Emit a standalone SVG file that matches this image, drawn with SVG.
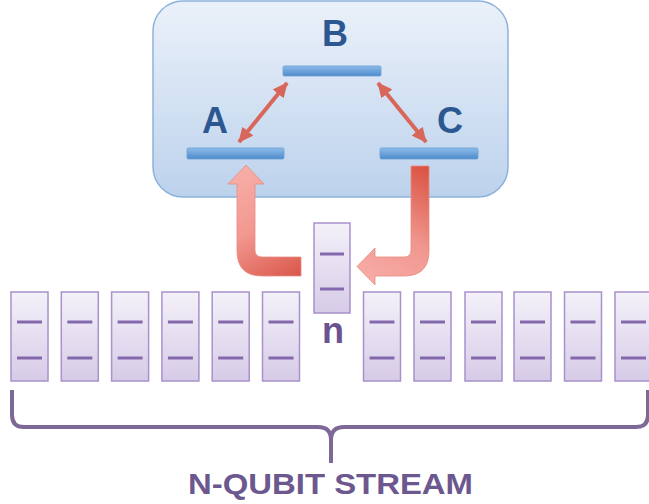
<svg xmlns="http://www.w3.org/2000/svg" width="649" height="504" viewBox="0 0 649 504">
<defs>
<linearGradient id="gBox" x1="0" y1="0" x2="0" y2="1">
<stop offset="0" stop-color="#ebf1fa"/>
<stop offset="1" stop-color="#bcd2ec"/>
</linearGradient>
<linearGradient id="gBar" x1="0" y1="0" x2="0" y2="1">
<stop offset="0" stop-color="#8dbbe9"/>
<stop offset="1" stop-color="#4e8bcc"/>
</linearGradient>
<linearGradient id="gQ" x1="0" y1="0" x2="0" y2="1">
<stop offset="0" stop-color="#f4f1f9"/>
<stop offset="1" stop-color="#d6cbe7"/>
</linearGradient>
<linearGradient id="gLeft" gradientUnits="userSpaceOnUse" x1="237" y1="165" x2="301" y2="276">
<stop offset="0" stop-color="#f8b0aa"/>
<stop offset="0.5" stop-color="#f29890"/>
<stop offset="1" stop-color="#d9564a"/>
</linearGradient>
<linearGradient id="gRight" gradientUnits="userSpaceOnUse" x1="429" y1="166" x2="357" y2="276">
<stop offset="0" stop-color="#d9503f"/>
<stop offset="0.55" stop-color="#f09890"/>
<stop offset="1" stop-color="#f8aca6"/>
</linearGradient>
<marker id="ah" viewBox="0 0 15 14" refX="14" refY="7" markerWidth="15" markerHeight="14" markerUnits="userSpaceOnUse" orient="auto-start-reverse">
<path d="M0 0 L15 7 L0 14 Z" fill="#d9665a"/>
</marker>
</defs>
<style>
.lbl{font-family:"Liberation Sans",Arial,sans-serif;font-weight:bold;font-size:36px;fill:#2c5891;text-anchor:middle}
.bar{fill:url(#gBar);stroke:#6b9fd6;stroke-width:0.8}
.q{fill:url(#gQ);stroke:#a991cc;stroke-width:1.5}
.ql{stroke:#8468ad;stroke-width:3;stroke-linecap:butt}
.dbl{stroke:#d9665a;stroke-width:4;fill:none}
.big{stroke:#e98b82;stroke-width:0.8}
</style>
<rect width="649" height="504" fill="#ffffff"/>

<g id="system">
<rect x="153" y="1" width="355" height="196" rx="30" ry="30" fill="url(#gBox)" stroke="#8eb2dc" stroke-width="1.5"/>
</g>
<g id="levelB">
<rect class="bar" x="283" y="66" width="98" height="10" rx="1.5"/>
<text class="lbl" x="335" y="46">B</text>
</g>
<g id="levelA">
<rect class="bar" x="187" y="148" width="97" height="11" rx="1.5"/>
<text class="lbl" x="215" y="133">A</text>
</g>
<g id="levelC">
<rect class="bar" x="380" y="148" width="98" height="11" rx="1.5"/>
<text class="lbl" x="450" y="133">C</text>
</g>

<g id="connectors">
<line class="dbl" x1="239" y1="142" x2="287" y2="83" marker-start="url(#ah)" marker-end="url(#ah)"/>
<line class="dbl" x1="378" y1="83" x2="426" y2="142" marker-start="url(#ah)" marker-end="url(#ah)"/>
<path class="big" fill="url(#gLeft)" d="M246 165 L264 184 L255 184 L255 250 Q255 257 262 257 L301 257 L301 276 L262 276 Q237 276 237 251 L237 184 L228 184 Z"/>
<path class="big" fill="url(#gRight)" d="M411 166 L429 166 L429 251 Q429 276 404 276 L375 276 L375 285 L357 266.5 L375 248 L375 257 L404 257 Q411 257 411 250 Z"/>
<path d="M12 390 V415 Q12 427 24 427 H318 Q331 427 331 440 V463 M331 440 Q331 427 344 427 H636 Q648 427 648 415 V390" fill="none" stroke="#7d6898" stroke-width="4" stroke-linejoin="round"/>
</g>

<g id="qubit1"><rect class="q" x="11" y="292" width="37" height="89"/><line class="ql" x1="17" y1="322" x2="42" y2="322"/><line class="ql" x1="17" y1="358" x2="42" y2="358"/></g>
<g id="qubit2"><rect class="q" x="61.3" y="292" width="37" height="89"/><line class="ql" x1="67.3" y1="322" x2="92.3" y2="322"/><line class="ql" x1="67.3" y1="358" x2="92.3" y2="358"/></g>
<g id="qubit3"><rect class="q" x="111.6" y="292" width="37" height="89"/><line class="ql" x1="117.6" y1="322" x2="142.6" y2="322"/><line class="ql" x1="117.6" y1="358" x2="142.6" y2="358"/></g>
<g id="qubit4"><rect class="q" x="161.9" y="292" width="37" height="89"/><line class="ql" x1="167.9" y1="322" x2="192.9" y2="322"/><line class="ql" x1="167.9" y1="358" x2="192.9" y2="358"/></g>
<g id="qubit5"><rect class="q" x="212.2" y="292" width="37" height="89"/><line class="ql" x1="218.2" y1="322" x2="243.2" y2="322"/><line class="ql" x1="218.2" y1="358" x2="243.2" y2="358"/></g>
<g id="qubit6"><rect class="q" x="262.5" y="292" width="37" height="89"/><line class="ql" x1="268.5" y1="322" x2="293.5" y2="322"/><line class="ql" x1="268.5" y1="358" x2="293.5" y2="358"/></g>
<g id="qubitN"><rect class="q" x="314" y="223" width="36" height="90"/><line class="ql" x1="320" y1="254" x2="344" y2="254"/><line class="ql" x1="320" y1="289" x2="344" y2="289"/>
<text x="333" y="343" font-family="Liberation Sans, Arial, sans-serif" font-weight="bold" font-size="36" fill="#6b5290" text-anchor="middle">n</text></g>
<g id="qubit8"><rect class="q" x="363.5" y="292" width="37" height="89"/><line class="ql" x1="369.5" y1="322" x2="394.5" y2="322"/><line class="ql" x1="369.5" y1="358" x2="394.5" y2="358"/></g>
<g id="qubit9"><rect class="q" x="414" y="292" width="37" height="89"/><line class="ql" x1="420" y1="322" x2="445" y2="322"/><line class="ql" x1="420" y1="358" x2="445" y2="358"/></g>
<g id="qubit10"><rect class="q" x="465" y="292" width="37" height="89"/><line class="ql" x1="471" y1="322" x2="496" y2="322"/><line class="ql" x1="471" y1="358" x2="496" y2="358"/></g>
<g id="qubit11"><rect class="q" x="514" y="292" width="37" height="89"/><line class="ql" x1="520" y1="322" x2="545" y2="322"/><line class="ql" x1="520" y1="358" x2="545" y2="358"/></g>
<g id="qubit12"><rect class="q" x="564.5" y="292" width="37" height="89"/><line class="ql" x1="570.5" y1="322" x2="595.5" y2="322"/><line class="ql" x1="570.5" y1="358" x2="595.5" y2="358"/></g>
<g id="qubit13"><rect class="q" x="615" y="292" width="37" height="89"/><line class="ql" x1="621" y1="322" x2="646" y2="322"/><line class="ql" x1="621" y1="358" x2="646" y2="358"/></g>

<g id="streamLabel">
<text x="330.5" y="494" font-family="Liberation Sans, Arial, sans-serif" font-weight="bold" font-size="30" fill="#6c578f" text-anchor="middle" textLength="285" lengthAdjust="spacingAndGlyphs">N-QUBIT STREAM</text>
</g>
</svg>
